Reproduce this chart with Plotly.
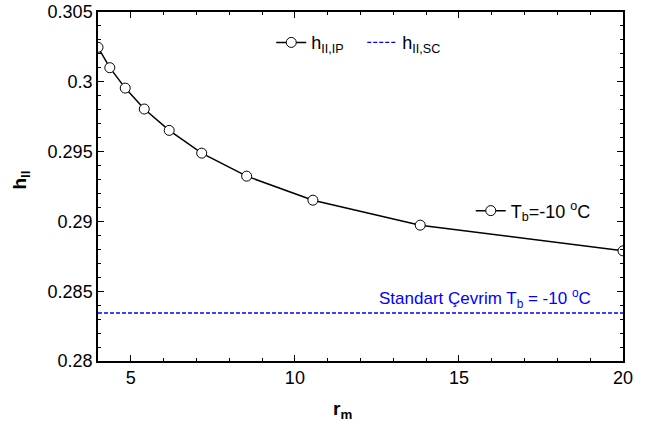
import plotly.graph_objects as go

# Data
r_m = [4.0, 4.36, 4.83, 5.41, 6.17, 7.16, 8.53, 10.55, 13.82, 20.0]
h_ip = [0.30247, 0.30101, 0.29955, 0.29805, 0.29652, 0.29489, 0.29324, 0.29152, 0.28973, 0.28789]
h_sc = 0.28344
x_range = [4, 20]
y_range = [0.28, 0.305]
x_ticks = [5, 10, 15, 20]
y_ticks = [0.28, 0.285, 0.29, 0.295, 0.30, 0.305]
y_ticktext = ["0.28", "0.285", "0.29", "0.295", "0.3", "0.305"]

FONT = "Liberation Sans, Arial, sans-serif"
FS = 18

fig = go.Figure()

fig.add_trace(go.Scatter(
    x=r_m, y=h_ip, mode="lines+markers",
    name="h<sub>II,IP</sub>",
    line=dict(color="black", width=1.5),
    marker=dict(symbol="circle", size=10, color="white",
                line=dict(color="black", width=1)),
    legend="legend",
))
fig.add_trace(go.Scatter(
    x=x_range, y=[h_sc, h_sc], mode="lines",
    name="h<sub>II,SC</sub>",
    line=dict(color="blue", width=1.3, dash="4px,2px"),
    legend="legend",
))
# legend entry for the curve label
fig.add_trace(go.Scatter(
    x=[None], y=[None], mode="lines+markers",
    name="T<sub>b</sub>=-10 <sup>o</sup>C",
    line=dict(color="black", width=1.5),
    marker=dict(symbol="circle", size=10, color="white",
                line=dict(color="black", width=1)),
    legend="legend2",
))

fig.add_annotation(
    x=19.08, y=0.2845, xref="x", yref="y", xanchor="right", yanchor="middle",
    text="Standart Çevrim T<sub>b</sub> = -10 <sup>o</sup>C",
    showarrow=False, font=dict(family=FONT, size=FS - 1, color="blue"),
)
# axis titles
fig.add_annotation(
    x=0.465, y=-0.14, xref="paper", yref="paper", xanchor="center", yanchor="middle",
    text="<b>r<sub>m</sub></b>", showarrow=False,
    font=dict(family=FONT, size=FS + 1, color="black"),
)
fig.add_annotation(
    x=-0.1467, y=0.52, xref="paper", yref="paper", xanchor="center", yanchor="middle",
    text="<b>h<sub>II</sub></b>", showarrow=False, textangle=-90,
    font=dict(family=FONT, size=FS + 1, color="black"),
)

axis_common = dict(
    showline=True, linecolor="black", linewidth=1.5, mirror="ticks",
    ticks="inside", ticklen=6, tickwidth=1, tickcolor="black",
    showgrid=False, zeroline=False, automargin=False,
    tickfont=dict(family=FONT, size=FS, color="black"),
)

fig.update_xaxes(
    range=x_range, tickvals=x_ticks,
    minor=dict(dtick=1, tick0=4, ticks="inside", ticklen=3, tickcolor="black", showgrid=False),
    **axis_common,
)
fig.update_yaxes(
    range=y_range, tickvals=y_ticks, ticktext=y_ticktext,
    minor=dict(dtick=0.001, tick0=0.28, ticks="inside", ticklen=3, tickcolor="black", showgrid=False),
    **axis_common,
)

fig.update_layout(
    template="none",
    width=649, height=423,
    margin=dict(l=98, r=26, t=12, b=62, autoexpand=False),
    paper_bgcolor="white", plot_bgcolor="white",
    font=dict(family=FONT, size=FS, color="black"),
    legend=dict(orientation="h", x=0.33, y=0.912, xanchor="left", yanchor="middle",
                bgcolor="rgba(0,0,0,0)", font=dict(family=FONT, size=FS),
                itemwidth=30, tracegroupgap=0, entrywidth=46, entrywidthmode="pixels"),
    legend2=dict(orientation="h", x=0.71, y=0.43, xanchor="left", yanchor="middle",
                 bgcolor="rgba(0,0,0,0)", font=dict(family=FONT, size=FS),
                 itemwidth=30),
)

fig.write_html("out.html", config={"displayModeBar": False},
               post_script="document.body.style.margin='0';")
